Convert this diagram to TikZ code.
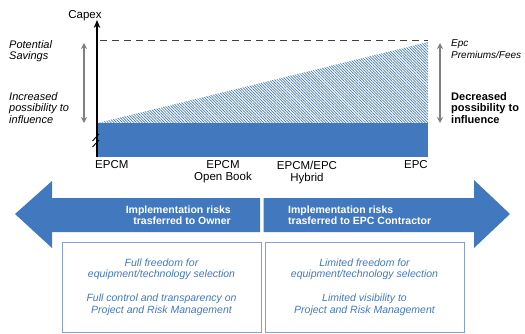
\documentclass[tikz,border=0pt]{standalone}
\usepackage{fontspec}
\setmainfont{Liberation Sans}
\usetikzlibrary{patterns.meta,arrows.meta}
\definecolor{capblue}{RGB}{66,120,190}
\definecolor{boxline}{RGB}{130,160,210}
\definecolor{softgray}{RGB}{128,128,128}
\begin{document}
\begin{tikzpicture}[x=1pt, y=-1pt,
    lbl/.style={font=\fontsize{11.5}{12}\selectfont, inner sep=0pt, align=center},
    side/.style={font=\fontsize{11}{11.5}\selectfont\itshape, inner sep=0pt, align=left},
    risk/.style={font=\fontsize{10.5}{11.5}\selectfont\bfseries, text=white, inner sep=0pt},
    info/.style={draw=boxline, line width=0.8pt, minimum width=199pt, minimum height=90pt,
        font=\fontsize{10.5}{11.5}\selectfont\itshape, text=capblue, align=center, inner sep=0pt},
    gauge/.style={softgray, line width=1.6pt, {Stealth[length=6pt,width=6pt]}-{Stealth[length=6pt,width=6pt]}}]
    \useasboundingbox (0,0) rectangle (525,334);

    \fill[capblue] (98,123) rectangle (428,157);
    \fill[pattern={Lines[angle=-45,distance=2pt,line width=0.7pt]}, pattern color=capblue]
        (98,123) -- (428,42) -- (428,123) -- cycle;

    \coordinate (dashL) at (100,40.5);
    \coordinate (dashR) at (428,40.5);
    \draw[black!75, line width=0.8pt, dash pattern=on 7pt off 5pt] (dashL) -- (dashR);

    \coordinate (o) at (97,157);
    \coordinate (top) at (97,20);
    \draw[line width=2.6pt, -{Stealth[length=8pt,width=6.5pt]}] (o) -- (top);
    \draw[line width=0.9pt] (92.5,141) -- (99,134) (92.5,147) -- (99,140);

    \coordinate (lg1) at (84,43);
    \coordinate (lg2) at (84,123);
    \coordinate (rg1) at (440,43);
    \coordinate (rg2) at (440,123);
    \draw[gauge] (lg1) -- (lg2);
    \draw[gauge] (rg1) -- (rg2);

    \node[lbl, anchor=base] (capex) at (85,19) {Capex};
    \node[side, anchor=north west] (savings) at (9,40) {Potential\\Savings};
    \node[side, anchor=north west] (more) at (9,92) {Increased\\possibility to\\influence};
    \node[side, anchor=north west, font=\fontsize{10}{11.5}\selectfont\itshape] (fees) at (451,39.5) {Epc\\Premiums/Fees};
    \node[side, anchor=north west, font=\fontsize{11}{11.5}\selectfont\bfseries] (less) at (451,92) {Decreased\\possibility to\\influence};

    \node[lbl, anchor=base west] (epcm) at (95,169) {EPCM};
    \node[lbl, anchor=north] (book) at (223,160.5) {EPCM\\Open Book};
    \node[lbl, anchor=north] (hybrid) at (307,160.5) {EPCM/EPC\\Hybrid};
    \node[lbl, anchor=base east] (epc) at (428,168) {EPC};

    \fill[capblue] (260,198) -- (52,198) -- (52,181) -- (15,214) -- (52,248) -- (52,232) -- (260,232) -- cycle;
    \fill[capblue] (263.5,198) -- (474,198) -- (474,180) -- (510,214) -- (474,248) -- (474,232) -- (263.5,232) -- cycle;

    \node[risk, anchor=north east, align=right] (owner) at (231,205.3) {Implementation risks\\trasferred to Owner};
    \node[risk, anchor=north west, align=left] (contractor) at (288,205.3) {Implementation risks\\trasferred to EPC Contractor};

    \node[info] (ownerbox) at (161.5,287) {Full freedom for\\equipment/technology selection\\[12.5pt]Full control and transparency on\\Project and Risk Management};
    \node[info] (epcbox) at (364.5,287) {Limited freedom for\\equipment/technology selection\\[12.5pt]Limited visibility to\\Project and Risk Management};
\end{tikzpicture}
\end{document}
